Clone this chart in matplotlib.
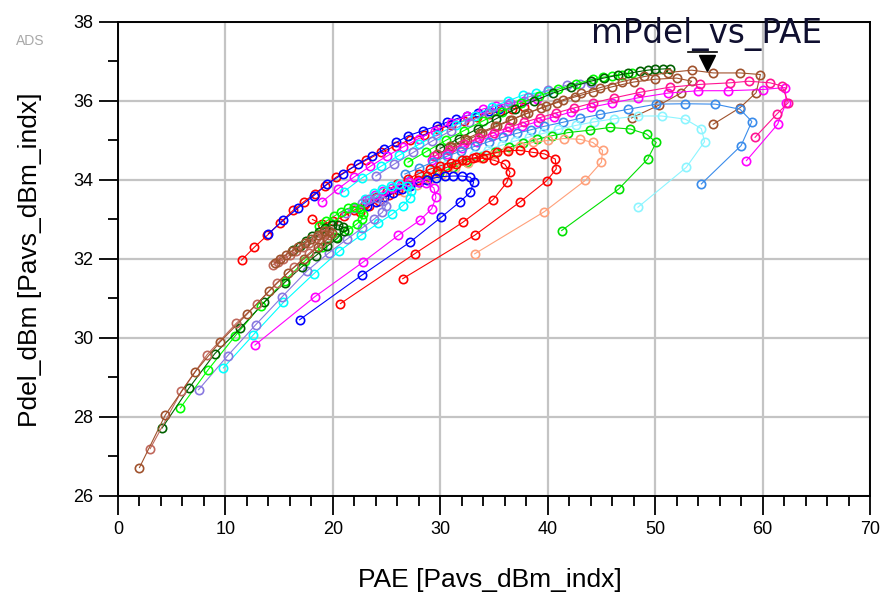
import matplotlib
matplotlib.use("Agg")
import matplotlib.pyplot as plt
from matplotlib.ticker import MultipleLocator

plt.rcParams['font.family'] = ['Liberation Sans', 'DejaVu Sans']

# ---------------- data (PAE, Pdel) per curve ----------------
# upper boundary curves
red_ub_x = [11.5, 12.7, 13.9, 15.1, 16.3, 17.3, 18.3, 19.3, 20.3, 21.7, 23.1, 24.5, 25.9, 27.2, 28.5, 29.8, 31.0, 32.2, 33.4, 34.5, 35.6, 36.7, 37.8]
red_ub_y = [31.97, 32.3, 32.6, 32.92, 33.23, 33.45, 33.65, 33.86, 34.07, 34.3, 34.5, 34.7, 34.87, 35.02, 35.15, 35.28, 35.4, 35.5, 35.6, 35.68, 35.75, 35.8, 35.85]
blue_ub_x = [14.0, 15.4, 16.8, 18.2, 19.5, 20.9, 22.3, 23.6, 24.8, 25.9, 27.0, 28.4, 29.7, 30.6, 31.5, 32.5, 33.5, 34.5, 35.5]
blue_ub_y = [32.64, 32.98, 33.3, 33.6, 33.9, 34.15, 34.4, 34.6, 34.78, 34.95, 35.12, 35.25, 35.37, 35.46, 35.55, 35.63, 35.7, 35.75, 35.8]
mag_ub_x = [19.0, 20.5, 22.0, 23.5, 25.0, 26.5, 28.0, 29.5, 31.0, 32.5, 34.0, 35.2, 36.5, 37.8, 39.0]
mag_ub_y = [33.45, 33.78, 34.08, 34.35, 34.6, 34.83, 35.05, 35.25, 35.45, 35.63, 35.8, 35.88, 35.95, 36.0, 36.05]
cyan_ub_x = [21.0, 22.7, 24.5, 26.2, 28.0, 29.7, 31.5, 33.2, 34.8, 36.3, 37.7, 38.9, 40.0]
cyan_ub_y = [33.7, 34.05, 34.35, 34.63, 34.9, 35.15, 35.4, 35.63, 35.85, 36.0, 36.15, 36.2, 36.25]
purp_ub_x = [24.0, 25.7, 27.5, 29.2, 31.0, 32.7, 34.5, 36.3, 38.2, 40.0, 41.8, 43.0, 44.0]
purp_ub_y = [34.1, 34.4, 34.7, 34.98, 35.25, 35.48, 35.7, 35.9, 36.1, 36.27, 36.4, 36.43, 36.45]
green_ub_x = [27.0, 28.7, 30.5, 32.2, 34.0, 35.7, 37.5, 39.2, 41.0, 42.6, 44.2, 45.1, 46.0, 46.9, 47.8]
green_ub_y = [34.45, 34.72, 35.0, 35.25, 35.5, 35.73, 35.95, 36.13, 36.3, 36.43, 36.55, 36.6, 36.64, 36.67, 36.7]
dkg_ub_x = [30.0, 31.7, 33.5, 35.2, 37.0, 38.7, 40.5, 42.2, 44.0, 45.2, 46.5, 47.5, 48.6, 49.3, 50.0, 50.7, 51.4]
dkg_ub_y = [34.8, 35.05, 35.3, 35.55, 35.8, 36.0, 36.2, 36.36, 36.5, 36.58, 36.65, 36.7, 36.75, 36.78, 36.8, 36.81, 36.82]

# outer hairpins
brown_top_x = [55.4, 57.9, 59.4, 59.8, 57.9, 55.4, 53.4, 51.2, 49.0, 46.9, 44.9, 43.1, 41.4, 39.8, 38.2, 36.7, 35.3, 33.9, 32.5, 31.1, 29.7]
brown_top_y = [35.41, 35.83, 36.21, 36.67, 36.71, 36.71, 36.78, 36.72, 36.62, 36.49, 36.34, 36.19, 36.03, 35.87, 35.7, 35.53, 35.36, 35.19, 35.01, 34.83, 34.65]
brown2_x = [47.8, 50.4, 52.4, 53.4, 52.0, 50.0, 48.0, 46.0, 44.2, 42.5, 40.9, 39.4, 37.9, 36.5, 35.1, 33.7, 32.3, 30.9]
brown2_y = [35.57, 35.9, 36.2, 36.5, 36.58, 36.55, 36.48, 36.36, 36.23, 36.1, 35.96, 35.82, 35.67, 35.52, 35.36, 35.2, 35.03, 34.86]
dpink_x = [59.3, 61.3, 62.4, 61.8, 60.7, 58.7, 57.0, 54.2, 51.4, 48.6, 46.2, 44.2, 42.4, 40.8, 39.3, 37.8, 36.4, 35.0, 33.6, 32.2, 30.8, 29.4]
dpink_y = [35.08, 35.66, 35.96, 36.38, 36.46, 36.5, 36.46, 36.42, 36.35, 36.22, 36.08, 35.95, 35.82, 35.7, 35.58, 35.46, 35.33, 35.2, 35.06, 34.91, 34.76, 34.6]
mag_out_x = [58.5, 61.4, 62.2, 62.1, 60.0, 56.8, 54.0, 51.2, 48.4, 46.0, 44.0, 42.2, 40.6, 39.1, 37.6, 36.2, 34.8, 33.4, 32.0, 30.6, 29.2]
mag_out_y = [34.49, 35.41, 35.96, 36.34, 36.29, 36.26, 36.26, 36.2, 36.08, 35.95, 35.84, 35.72, 35.6, 35.48, 35.36, 35.24, 35.11, 34.97, 34.82, 34.66, 34.5]
dodger_x = [54.3, 58.0, 59.0, 57.9, 55.6, 52.8, 50.1, 47.5, 44.9, 43.0, 41.4, 39.7, 38.4, 37.1, 35.8, 34.5, 33.2, 31.9, 30.6, 29.3, 28.0, 26.7]
dodger_y = [33.9, 34.87, 35.48, 35.79, 35.92, 35.93, 35.92, 35.79, 35.66, 35.56, 35.46, 35.36, 35.27, 35.18, 35.08, 34.97, 34.85, 34.73, 34.6, 34.45, 34.3, 34.15]
lcyan_x = [48.4, 52.9, 54.6, 54.3, 52.8, 50.6, 48.4, 46.2, 44.3, 42.6, 41.0, 39.6, 38.3, 37.0, 35.7, 34.4, 33.1, 31.8, 30.5, 29.2, 28.0]
lcyan_y = [33.31, 34.32, 34.97, 35.3, 35.54, 35.62, 35.62, 35.55, 35.47, 35.38, 35.28, 35.18, 35.09, 34.99, 34.88, 34.77, 34.64, 34.51, 34.37, 34.22, 34.08]
green_out_x = [41.3, 46.6, 49.3, 50.1, 49.2, 47.7, 45.8, 43.9, 41.9, 40.4, 39.0, 37.7, 36.4, 35.1, 33.8, 32.5, 31.2, 29.9, 28.6]
green_out_y = [32.72, 33.77, 34.53, 34.95, 35.16, 35.29, 35.33, 35.26, 35.2, 35.12, 35.03, 34.93, 34.83, 34.71, 34.59, 34.46, 34.32, 34.17, 34.02]
salmon_x = [33.2, 39.7, 43.5, 45.0, 45.1, 44.2, 43.0, 41.5, 40.0, 38.6, 37.4, 36.2, 35.0, 33.8, 32.6, 31.4, 30.2, 29.0, 27.8, 26.6]
salmon_y = [32.13, 33.2, 33.99, 34.45, 34.75, 34.95, 35.03, 35.05, 35.0, 34.95, 34.86, 34.76, 34.66, 34.55, 34.43, 34.3, 34.16, 34.02, 33.87, 33.7]
redb_x = [26.5, 33.2, 37.4, 39.9, 40.8, 40.7, 39.7, 38.6, 37.4, 36.3, 35.3, 34.3, 33.3, 32.4, 31.5, 30.6, 29.7, 28.8, 27.9, 27.0, 26.1, 25.2, 24.3, 23.4, 22.5]
redb_y = [31.5, 32.6, 33.44, 33.98, 34.28, 34.53, 34.66, 34.7, 34.75, 34.74, 34.7, 34.64, 34.57, 34.5, 34.41, 34.32, 34.22, 34.11, 34.0, 33.88, 33.75, 33.62, 33.48, 33.34, 33.2]
reda_x = [20.7, 27.6, 32.1, 34.9, 36.2, 36.5, 36.0, 35.0, 34.0, 33.0, 32.0, 31.0, 30.0, 29.0, 28.0, 27.0, 26.0, 25.0, 24.0, 23.0, 22.0, 21.0, 20.0, 19.0, 18.1]
reda_y = [30.87, 32.13, 32.93, 33.5, 33.94, 34.19, 34.4, 34.5, 34.55, 34.55, 34.51, 34.44, 34.36, 34.27, 34.16, 34.03, 33.89, 33.73, 33.56, 33.4, 33.24, 33.08, 32.95, 32.88, 33.0]
bluea_x = [16.9, 22.7, 27.2, 30.1, 31.8, 32.8, 33.1, 32.8, 32.0, 31.2, 30.4, 29.6, 28.8, 28.0, 27.2, 26.4, 25.6, 24.8, 24.0, 23.2]
bluea_y = [30.46, 31.59, 32.43, 33.06, 33.44, 33.69, 33.94, 34.07, 34.1, 34.1, 34.09, 34.06, 34.01, 33.94, 33.85, 33.76, 33.66, 33.56, 33.45, 33.33]

# inner hairpins (long diagonal)
mag_in_x = [12.75, 18.3, 22.8, 26.1, 28.1, 29.2, 29.6, 29.4, 28.7, 27.9, 27.1, 26.3, 25.5, 24.7, 23.9, 23.1]
mag_in_y = [29.82, 31.04, 31.92, 32.6, 32.98, 33.27, 33.56, 33.8, 33.93, 33.96, 33.94, 33.88, 33.8, 33.71, 33.61, 33.5]
cyan_in_x = [9.8, 12.6, 15.4, 18.2, 20.6, 22.6, 24.2, 25.5, 26.5, 27.2, 27.3, 26.9, 26.2, 25.4, 24.6, 23.8, 23.0]
cyan_in_y = [29.24, 30.08, 30.9, 31.62, 32.2, 32.6, 32.9, 33.13, 33.35, 33.55, 33.72, 33.85, 33.9, 33.86, 33.77, 33.66, 33.52]
purp_in_x = [7.5, 10.2, 12.8, 15.3, 17.6, 19.6, 21.3, 22.7, 23.8, 24.6, 24.9, 24.7, 24.1, 23.4, 22.7, 22.0, 21.2]
purp_in_y = [28.69, 29.55, 30.33, 31.05, 31.7, 32.15, 32.5, 32.78, 33.0, 33.18, 33.33, 33.48, 33.55, 33.52, 33.42, 33.3, 33.16]
green_in_x = [5.8, 8.4, 10.9, 13.3, 15.5, 17.4, 19.0, 20.3, 21.4, 22.2, 22.7, 22.8, 22.5, 22.0, 21.4, 20.8, 20.1, 19.4, 18.7]
green_in_y = [28.23, 29.2, 30.05, 30.82, 31.45, 31.95, 32.3, 32.55, 32.74, 32.88, 33.0, 33.15, 33.27, 33.31, 33.28, 33.2, 33.08, 32.96, 32.84]
dkg_in_x = [4.1, 6.6, 9.0, 11.4, 13.6, 15.5, 17.1, 18.4, 19.5, 20.4, 21.0, 20.9, 20.5, 19.9, 19.3, 18.7, 18.1, 17.5, 16.9, 16.3]
dkg_in_y = [27.72, 28.73, 29.6, 30.25, 30.9, 31.4, 31.8, 32.08, 32.33, 32.52, 32.7, 32.8, 32.86, 32.85, 32.78, 32.68, 32.57, 32.46, 32.34, 32.22]
rosy_x = [3.0, 5.9, 8.3, 11.0, 12.9, 14.8, 16.4, 17.8, 18.9, 19.6, 19.3, 19.0, 18.4, 17.8, 17.2, 16.6, 16.0, 15.4, 14.9, 14.4]
rosy_y = [27.2, 28.65, 29.58, 30.37, 30.85, 31.4, 31.8, 32.15, 32.4, 32.6, 32.64, 32.62, 32.52, 32.4, 32.3, 32.2, 32.1, 32.0, 31.92, 31.85]
brown_x = [2.0, 4.4, 7.2, 9.5, 12.0, 14.1, 15.8, 17.3, 18.6, 19.5, 19.9, 19.6, 19.2, 18.6, 18.0, 17.4, 16.8, 16.2, 15.6, 15.1, 14.6]
brown_y = [26.72, 28.05, 29.15, 29.9, 30.6, 31.2, 31.65, 32.0, 32.3, 32.5, 32.65, 32.7, 32.7, 32.6, 32.5, 32.4, 32.3, 32.2, 32.1, 32.0, 31.9]

curves = [
    (red_ub_x, red_ub_y, '#FF0000'),
    (blue_ub_x, blue_ub_y, '#0000FF'),
    (mag_ub_x, mag_ub_y, '#FF00FF'),
    (cyan_ub_x, cyan_ub_y, '#00FFFF'),
    (purp_ub_x, purp_ub_y, '#8878E0'),
    (green_ub_x, green_ub_y, '#00FF00'),
    (dkg_ub_x, dkg_ub_y, '#006000'),
    (brown2_x, brown2_y, '#A0522D'),
    (brown_top_x, brown_top_y, '#A0522D'),
    (mag_out_x, mag_out_y, '#FF00FF'),
    (dpink_x, dpink_y, '#FF1493'),
    (dodger_x, dodger_y, '#3A8CEB'),
    (lcyan_x, lcyan_y, '#8CF5FF'),
    (green_out_x, green_out_y, '#00E000'),
    (salmon_x, salmon_y, '#FFA07A'),
    (redb_x, redb_y, '#FF0000'),
    (reda_x, reda_y, '#FF0000'),
    (bluea_x, bluea_y, '#0000FF'),
    (mag_in_x, mag_in_y, '#FF00FF'),
    (cyan_in_x, cyan_in_y, '#00FFFF'),
    (purp_in_x, purp_in_y, '#8878E0'),
    (green_in_x, green_in_y, '#00FF00'),
    (dkg_in_x, dkg_in_y, '#006000'),
    (rosy_x, rosy_y, '#C0685C'),
    (brown_x, brown_y, '#A0522D'),
]

marker_label = "mPdel_vs_PAE"
marker_pt = (54.8, 36.97)

# ---------------- figure ----------------
fig = plt.figure(figsize=(8.82, 5.99), dpi=100)
ax = fig.add_axes([0.1338, 0.172, 0.8526, 0.7913])

for xs, ys, c in curves:
    ax.plot(xs, ys, color=c, lw=0.8, marker='o', ms=6, mfc='none',
            mec=c, mew=1.2, zorder=3)

ax.set_xlim(0, 70)
ax.set_ylim(26, 38)
ax.xaxis.set_major_locator(MultipleLocator(10))
ax.xaxis.set_minor_locator(MultipleLocator(2))
ax.yaxis.set_major_locator(MultipleLocator(2))
ax.yaxis.set_minor_locator(MultipleLocator(1))
ax.grid(True, which='major', color='#c4c4c4', lw=1.6, zorder=0)
ax.tick_params(which='major', direction='out', length=14, width=1.3,
               labelsize=13, pad=4, colors='black')
ax.tick_params(which='minor', direction='out', length=7, width=1.3)
for s in ax.spines.values():
    s.set_linewidth(1.4)
    s.set_color('black')

ax.set_xlabel("PAE [Pavs_dBm_indx]", fontsize=19, va='center', ha='center')
ax.xaxis.set_label_coords(0.494, -0.177)
ax.set_ylabel("Pdel_dBm [Pavs_dBm_indx]", fontsize=19, va='center', ha='center')
ax.yaxis.set_label_coords(-0.117, 0.498)

# marker
ax.plot([marker_pt[0]], [marker_pt[1]], marker='v', color='black', ms=11,
        zorder=5, clip_on=False)
ax.plot([marker_pt[0] - 1.7, marker_pt[0] + 1.0], [marker_pt[1] + 0.28, marker_pt[1] + 0.28],
        color='black', lw=1.2, zorder=5)
ax.text(marker_pt[0], 37.7, marker_label, fontsize=23.5, ha='center', va='center',
        color='#101030', zorder=6, family=['DejaVu Sans'])

fig.text(30 / 882, 1 - 41 / 599, "ADS", fontsize=10, color='#a8a8a8',
         ha='center', va='center')

fig.savefig("out.png", dpi=100)
